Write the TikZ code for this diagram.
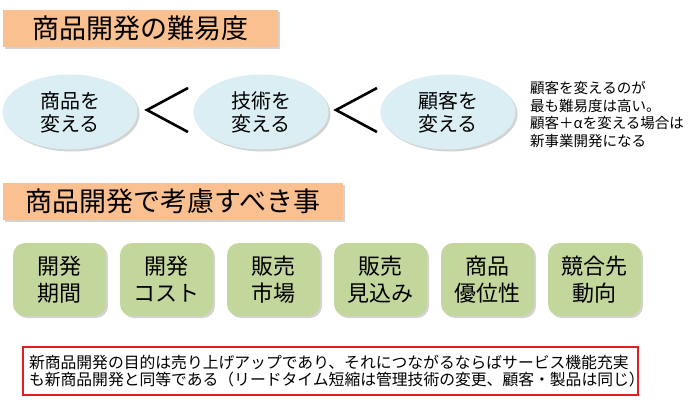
\documentclass[tikz,border=0pt]{standalone}
\usepackage{fontspec}
\setmainfont{Noto Sans CJK JP}
\usetikzlibrary{shapes.geometric,shadows}
\definecolor{titleorange}{HTML}{FAC090}
\definecolor{ellblue}{HTML}{DAEEF3}
\definecolor{boxgreen}{HTML}{C3D69B}
\definecolor{notered}{HTML}{E0201E}

\begin{document}
\begin{tikzpicture}[x=1pt, y=1pt,
    softshadow/.style={drop shadow={shadow xshift=2pt, shadow yshift=-2pt, opacity=0.35}},
    titlebox/.style={fill=titleorange, softshadow, minimum height=37pt, inner sep=0pt, font=\fontsize{27}{30}\selectfont},
    change/.style={ellipse, fill=ellblue, softshadow, minimum width=135pt, minimum height=75pt, inner sep=0pt, align=center, font=\fontsize{20}{23}\selectfont},
    factor/.style={rectangle, rounded corners=12pt, fill=boxgreen, softshadow, minimum width=93pt, minimum height=73pt, inner sep=0pt, align=center, font=\fontsize{22}{27}\selectfont}]
    \useasboundingbox (0,0) rectangle (700,-402);
    % difficulty
    \node[titlebox, minimum width=275pt] (difficulty) at (140.5,-28.5) {商品開発の難易度};
    \node[change] (product) at (70,-112) {商品を\\変える};
    \node[change] (tech) at (261,-112) {技術を\\変える};
    \node[change] (customer) at (448,-112) {顧客を\\変える};
    \draw[line width=2.6pt] (188,-88) -- (147,-110) -- (188,-132);
    \draw[line width=2.6pt] (377,-88) -- (336,-110) -- (377,-132);
    \node[anchor=west, align=left, inner sep=0pt, font=\fontsize{14.5}{17.7}\selectfont] (remark) at (530,-114.5)
        {顧客を変えるのが\\最も難易度は高い。\\顧客＋αを変える場合は\\新事業開発になる};
    % factors
    \node[titlebox, minimum width=340pt] (consider) at (173,-201.5) {商品開発で考慮すべき事};
    \node[factor] (period) at (59.5,-279.5) {開発\\期間};
    \node[factor] (cost) at (166.5,-279.5) {開発\\コスト};
    \node[factor] (market) at (273.5,-279.5) {販売\\市場};
    \node[factor] (forecast) at (380.5,-279.5) {販売\\見込み};
    \node[factor] (edge) at (487.5,-279.5) {商品\\優位性};
    \node[factor] (rival) at (594.5,-279.5) {競合先\\動向};
    % note
    \node[draw=notered, line width=1.2pt, text width=603pt, minimum height=48pt, inner xsep=6pt, inner ysep=0pt, align=left,
        font=\fontsize{15.8}{17}\selectfont] (purpose) at (330.5,-371)
        {新商品開発の目的は売り上げアップであり、それにつながるならばサービス機能充実\\も新商品開発と同等である（リードタイム短縮は管理技術の変更、顧客・製品は同じ）};
\end{tikzpicture}
\end{document}
